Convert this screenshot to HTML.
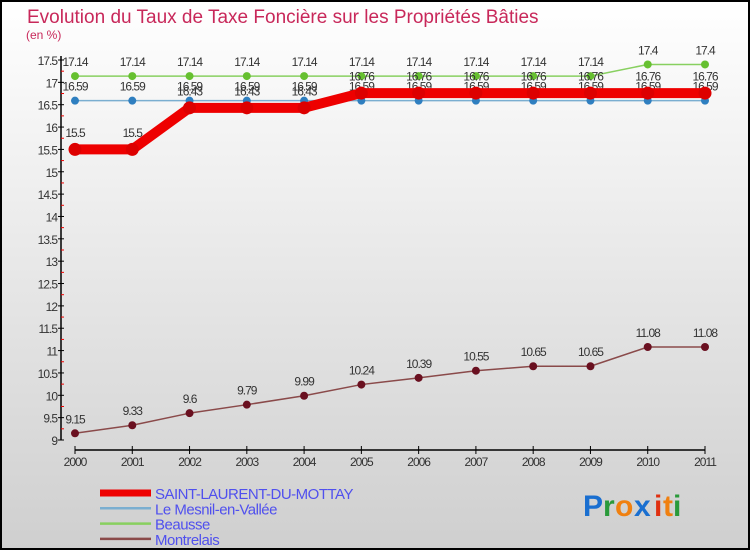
<!DOCTYPE html>
<html><head><meta charset="utf-8"><style>
html,body{margin:0;padding:0}
body{width:750px;height:550px;overflow:hidden;font-family:"Liberation Sans",sans-serif}
svg{display:block}
</style></head><body>
<svg id="chart" width="750" height="550" xmlns="http://www.w3.org/2000/svg">
<defs><linearGradient id="bg" x1="0" y1="0" x2="0" y2="1"><stop offset="0" stop-color="#ffffff"/><stop offset="1" stop-color="#cfcfcf"/></linearGradient></defs>
<rect x="1" y="1" width="748" height="548" fill="url(#bg)" stroke="#000" stroke-width="2"/>
<text x="27" y="23" font-size="19" fill="#c8285a">Evolution du Taux de Taxe Foncière sur les Propriétés Bâties</text>
<text x="26" y="39" font-size="12" fill="#c8285a">(en %)</text>
<g id="axes"></g><g id="series"></g><g id="legend"></g>
<g font-size="30" font-weight="bold" font-family="'Liberation Sans',sans-serif">
<text x="583" y="516" fill="#1a6fd0">P</text><text x="603" y="516" fill="#2a9a3a">r</text><text x="615" y="516" fill="#f08010">o</text><text x="634" y="516" fill="#1a6fd0">x</text><text x="654" y="516" fill="#e03010">i</text><text x="663" y="516" fill="#f08010">t</text><text x="673" y="516" fill="#2a9a3a">i</text>
</g>
</svg>
<script>
const years=[2000,2001,2002,2003,2004,2005,2006,2007,2008,2009,2010,2011];
const yTicks=[9,9.5,10,10.5,11,11.5,12,12.5,13,13.5,14,14.5,15,15.5,16,16.5,17,17.5];
const saint=[15.5,15.5,16.43,16.43,16.43,16.76,16.76,16.76,16.76,16.76,16.76,16.76];
const mesnil=[16.59,16.59,16.59,16.59,16.59,16.59,16.59,16.59,16.59,16.59,16.59,16.59];
const beausse=[17.14,17.14,17.14,17.14,17.14,17.14,17.14,17.14,17.14,17.14,17.4,17.4];
const montrelais=[9.15,9.33,9.6,9.79,9.99,10.24,10.39,10.55,10.65,10.65,11.08,11.08];
const seriesNames=["SAINT-LAURENT-DU-MOTTAY","Le Mesnil-en-Vallée","Beausse","Montrelais"];
const NS="http://www.w3.org/2000/svg";
const X=i=>75+i*(630/(years.length-1));
const Y=v=>440-(v-9)*(380/8.5);
function mk(parent,tag,attrs){const e=document.createElementNS(NS,tag);for(const k in attrs)e.setAttribute(k,attrs[k]);parent.appendChild(e);return e;}
const axes=document.getElementById('axes');
let e=mk(axes,'line',{x1:61,y1:56,x2:61,y2:440,stroke:'#000','stroke-width':1.5});


yTicks.forEach((t,i)=>{
 mk(axes,'line',{x1:58,x2:64,y1:Y(t),y2:Y(t),stroke:'#000'});
 if(i<yTicks.length-1) mk(axes,'line',{x1:61,x2:64,y1:Y(t+0.25),y2:Y(t+0.25),stroke:'#e00'});
 const tx=mk(axes,'text',{x:57,y:Y(t)+5,'text-anchor':'end','font-size':12,fill:'#333','letter-spacing':'-1'});
 tx.textContent=String(t);
 
 
});
e=mk(axes,'line',{x1:75,y1:450,x2:705,y2:450,stroke:'#000','stroke-width':1.5});


years.forEach((y,i)=>{
 mk(axes,'line',{x1:X(i),x2:X(i),y1:446,y2:454,stroke:'#000'});
 const tx=mk(axes,'text',{x:X(i),y:466,'text-anchor':'middle','font-size':12,fill:'#333','letter-spacing':'-1'});
 tx.textContent=y;
 
 
});
const sg=document.getElementById('series');
const defs=[
 {d:beausse,c:'#88d060',pc:'#66c030',w:1.5,r:4,n:'beausse'},
 {d:mesnil,c:'#7aaed0',pc:'#2f7fc0',w:1.5,r:4,n:'mesnil'},
 {d:saint,c:'#ee0000',pc:'#dd0000',w:10,r:6.5,n:'saint-laurent'},
 {d:montrelais,c:'#8a4a4a',pc:'#6a1020',w:1.5,r:4,n:'montrelais'}
];
defs.forEach(s=>{
 const g=mk(sg,'g',{});
 
 
 const pl=mk(g,'polyline',{points:s.d.map((v,i)=>X(i)+','+Y(v)).join(' '),fill:'none',stroke:s.c,'stroke-width':s.w,'stroke-linejoin':'round'});
 
 
 s.d.forEach((v,i)=>{
  const p=mk(g,'circle',{cx:X(i),cy:Y(v),r:s.r,fill:s.pc});
  
  
  const t=mk(g,'text',{x:X(i),y:Y(v)-(s.r+6),'text-anchor':'middle','font-size':12,fill:'#333','letter-spacing':'-1'});
  t.textContent=String(v);
  
  
 });
});
const lg=document.getElementById('legend');
const lcol=['#ee0000','#7aaed0','#88d060','#8a4a4a'];
const lw=[7,2.5,2.5,2.5];
seriesNames.forEach((n,i)=>{
 const yy=493+i*15.3;
 const ln=mk(lg,'line',{x1:100,x2:151,y1:yy,y2:yy,stroke:lcol[i],'stroke-width':lw[i]});
 
 
 const t=mk(lg,'text',{x:155,y:yy+6,'font-size':15,fill:'#5050ee','letter-spacing':'-0.5'});
 t.textContent=n;
 
 
});
</script>
</body></html>
